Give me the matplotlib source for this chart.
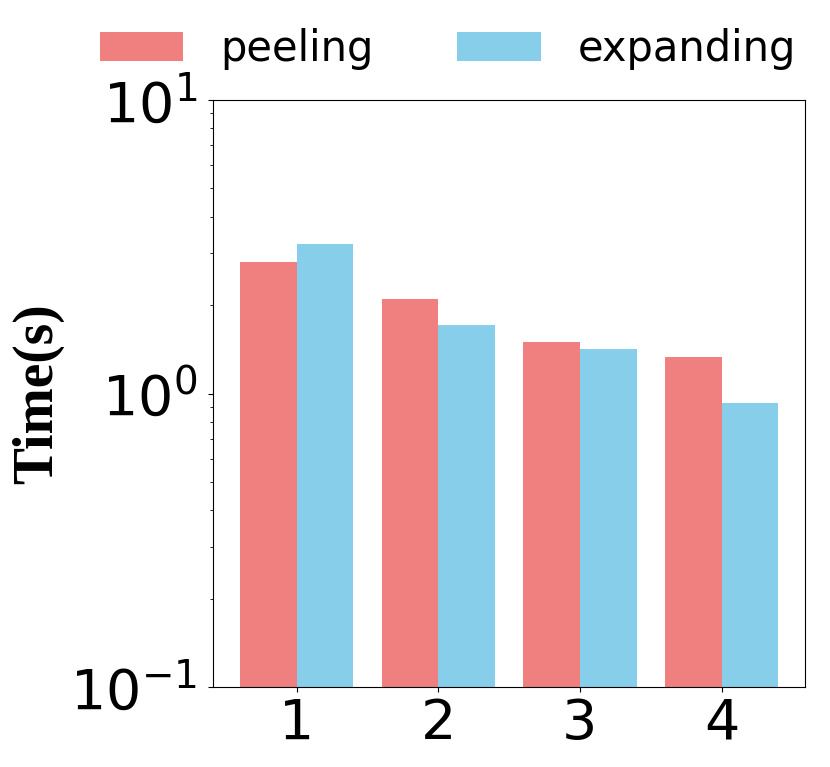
import matplotlib
matplotlib.use("Agg")
import matplotlib.pyplot as plt
import numpy as np

categories = ["1", "2", "3", "4"]
peeling = [2.81, 2.10, 1.50, 1.33]
expanding = [3.23, 1.71, 1.42, 0.93]
series_labels = ["peeling", "expanding"]

fig = plt.figure(figsize=(8.3, 7.67), dpi=100)
ax = fig.add_axes([0.2566, 0.1043, 0.970 - 0.2566, 0.8696 - 0.1043])

x = np.arange(1, len(categories) + 1)
w = 0.4
ax.bar(x - w / 2, peeling, w, color="lightcoral", label=series_labels[0])
ax.bar(x + w / 2, expanding, w, color="skyblue", label=series_labels[1])

ax.set_yscale("log")
ax.set_ylim(0.1, 10)
ax.set_xticks(x)
ax.set_xticklabels(categories)
ax.tick_params(axis="both", which="major", labelsize=40)
ax.tick_params(axis="y", which="major", pad=8)
ax.set_ylabel("Time(s)", fontsize=40, fontweight="bold", family="Liberation Serif")

ax.legend(loc="center left", bbox_to_anchor=(83 / 830, 1 - 49 / 767),
          bbox_transform=fig.transFigure, ncol=2, frameon=False,
          fontsize=30, columnspacing=2.0, handletextpad=0.9, borderaxespad=0.0)

fig.savefig("out.png", dpi=100)
